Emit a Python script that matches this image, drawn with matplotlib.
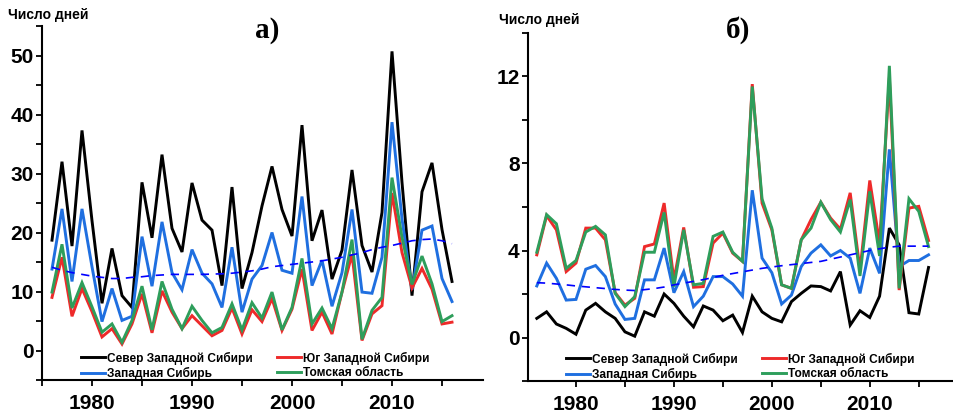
import matplotlib
matplotlib.use("Agg")
import matplotlib.pyplot as plt
from matplotlib.ticker import MultipleLocator

years = list(range(1976, 2017))

# Panel a
north_a = [18.7, 32.0, 17.7, 37.3, 22.0, 8.0, 17.3, 9.3, 7.3, 28.5, 19.1, 33.2, 20.7, 16.7, 28.4,
           22.1, 20.4, 11.0, 27.7, 10.5, 16.6, 24.5, 31.2, 23.9, 19.4, 38.2, 18.6, 23.8, 12.1, 17.0,
           30.6, 17.8, 13.3, 23.4, 50.7, 28.5, 9.3, 26.9, 31.8, 20.5, 11.7]
west_a = [13.8, 24.0, 11.7, 24.0, 14.2, 4.9, 10.5, 5.1, 5.8, 19.3, 10.9, 21.8, 13.2, 10.3, 17.1,
          13.1, 11.3, 7.3, 17.5, 6.5, 12.1, 14.4, 20.0, 13.6, 13.1, 26.1, 11.0, 15.3, 7.5, 13.2,
          23.9, 9.9, 9.7, 15.8, 38.7, 22.3, 10.3, 20.4, 21.1, 12.2, 8.3]
south_a = [9.0, 15.8, 5.8, 10.5, 6.6, 2.3, 3.7, 1.1, 4.5, 9.6, 3.0, 10.1, 6.5, 3.7, 5.9,
           4.2, 2.5, 3.4, 7.2, 2.8, 6.9, 4.9, 8.8, 3.4, 7.0, 13.8, 3.4, 6.5, 2.8, 9.9,
           16.3, 1.7, 6.2, 7.6, 26.7, 16.6, 10.6, 13.9, 10.4, 4.5, 4.8]
tomsk_a = [9.9, 18.0, 7.2, 11.5, 7.4, 3.1, 4.5, 1.4, 5.1, 10.9, 3.5, 11.7, 7.0, 3.7, 7.5,
           5.1, 3.0, 3.9, 7.9, 3.5, 8.1, 5.5, 9.9, 3.5, 7.3, 15.6, 4.5, 7.2, 3.7, 9.9,
           18.8, 1.9, 6.8, 9.0, 29.3, 19.2, 11.2, 16.0, 11.3, 4.9, 5.9]
trend_a = [14.1, 13.6, 13.2, 12.9, 12.6, 12.4, 12.2, 12.2, 12.4, 12.5, 12.7, 12.8, 12.9, 12.9, 12.9,
           12.9, 12.95, 13.0, 13.1, 13.3, 13.5, 13.8, 14.2, 14.4, 14.6, 14.8, 15.0, 15.2, 15.5, 15.8,
           16.2, 16.6, 17.1, 17.5, 17.8, 18.2, 18.6, 18.8, 18.9, 18.6, 18.1]

# Panel b
north_b = [0.88, 1.18, 0.62, 0.42, 0.15, 1.26, 1.57, 1.18, 0.88, 0.26, 0.06, 1.18, 0.98, 2.0, 1.57,
           0.98, 0.49, 1.45, 1.26, 0.77, 1.03, 0.23, 1.9, 1.18, 0.88, 0.72, 1.65, 2.03, 2.37, 2.34,
           2.14, 3.03, 0.57, 1.23, 0.92, 1.9, 5.03, 4.26, 1.14, 1.08, 3.22]
west_b = [2.37, 3.42, 2.72, 1.72, 1.75, 3.14, 3.31, 2.8, 1.54, 0.83, 0.88, 2.65, 2.65, 4.11, 2.06,
          3.03, 1.42, 1.9, 2.8, 2.8, 2.46, 1.9, 6.77, 3.65, 2.98, 1.54, 1.95, 3.26, 3.88, 4.26,
          3.75, 4.0, 3.65, 2.03, 4.11, 2.95, 8.65, 3.26, 3.54, 3.54, 3.8]
south_b = [3.8, 5.6, 4.95, 3.03, 3.42, 5.03, 5.03, 4.49, 2.06, 1.49, 1.8, 4.18, 4.3, 6.18, 2.65,
           5.06, 2.31, 2.34, 4.34, 4.8, 3.88, 3.5, 11.65, 6.18, 4.95, 2.42, 2.26, 4.49, 5.42, 6.22,
           5.49, 4.98, 6.65, 3.11, 7.22, 4.34, 11.95, 2.18, 5.95, 6.03, 4.46]
tomsk_b = [3.92, 5.65, 5.23, 3.18, 3.54, 4.85, 5.11, 4.72, 2.03, 1.42, 1.88, 3.92, 3.92, 5.75, 2.34,
           4.95, 2.42, 2.49, 4.65, 4.85, 3.92, 3.5, 11.54, 6.37, 5.03, 2.42, 2.26, 4.49, 5.03, 6.22,
           5.42, 4.85, 6.34, 2.83, 6.72, 3.75, 12.49, 2.26, 6.38, 5.8, 4.18]
trend_b = [2.52, 2.50, 2.46, 2.42, 2.37, 2.33, 2.29, 2.25, 2.21, 2.18, 2.16, 2.20, 2.25, 2.32, 2.42,
           2.50, 2.58, 2.66, 2.76, 2.86, 2.94, 3.02, 3.10, 3.18, 3.24, 3.30, 3.35, 3.40, 3.45, 3.50,
           3.60, 3.70, 3.80, 3.90, 4.00, 4.08, 4.15, 4.20, 4.20, 4.20, 4.20]

labels = ["Север Западной Сибири", "Западная Сибирь", "Юг Западной Сибири", "Томская область"]
colors = ["#000000", "#1f6fe0", "#ee2a2a", "#2e9e5b"]
titles = ["а)", "б)"]
ylabel = "Число дней"

plt.rcParams["font.family"] = ["Liberation Sans", "DejaVu Sans"]

fig = plt.figure(figsize=(9.54, 4.15), dpi=100)
ax_a = fig.add_axes([42/954, 1-380/415, 441/954, 354/415])
ax_b = fig.add_axes([528/954, 1-381/415, 426/954, 348/415])

panels = [
    (ax_a, [north_a, west_a, south_a, tomsk_a], trend_a, (-5, 55), (1975, 2019.1), 10, 5, 0.088),
    (ax_b, [north_b, west_b, south_b, tomsk_b], trend_b, (-2, 14), (1975.1, 2018.6), 4, 2, 0.089),
]

for ax, series, trend, ylim, xlim, ymaj, ymin, legx in panels:
    handles = []
    for s, c, lab in zip(series, colors, labels):
        h, = ax.plot(years, s, color=c, lw=2.1, label=lab, solid_joinstyle="miter")
        handles.append(h)
    ax.plot(years, trend, color="#0000ff", lw=1.2, ls=(0, (5, 4)))
    ax.set_ylim(*ylim)
    ax.set_xlim(*xlim)
    ax.yaxis.set_major_locator(MultipleLocator(ymaj))
    ax.yaxis.set_minor_locator(MultipleLocator(ymin))
    ax.xaxis.set_major_locator(MultipleLocator(10))
    ax.xaxis.set_minor_locator(MultipleLocator(5))
    for sp in ["top", "right"]:
        ax.spines[sp].set_visible(False)
    for sp in ["left", "bottom"]:
        ax.spines[sp].set_linewidth(1.5)
    ax.tick_params(which="both", direction="out", length=4, width=1.3)
    ax.tick_params(axis="y", which="major", labelsize=15, pad=2)
    ax.tick_params(axis="x", which="major", labelsize=15, pad=6)
    for t in ax.get_xticklabels() + ax.get_yticklabels():
        t.set_fontweight("bold")
    ax.legend(handles=handles, loc="lower left", bbox_to_anchor=(legx, 0.0),
              ncol=2, frameon=False, prop={"weight": "bold", "size": 8.6},
              handlelength=2.0, handletextpad=0.2, columnspacing=2.0,
              labelspacing=0.2, borderaxespad=0.0, borderpad=0.0)

fig.text(267/954, 1-30/415, titles[0], ha="center", va="center", fontsize=21,
         fontweight="bold", family="Liberation Serif")
fig.text(738/954, 1-30/415, titles[1], ha="center", va="center", fontsize=21,
         fontweight="bold", family="Liberation Serif")
fig.text(8/954, 1-15/415, ylabel, ha="left", va="center", fontsize=10, fontweight="bold")
fig.text(499/954, 1-20/415, ylabel, ha="left", va="center", fontsize=10, fontweight="bold")

fig.savefig("out.png", dpi=100)
